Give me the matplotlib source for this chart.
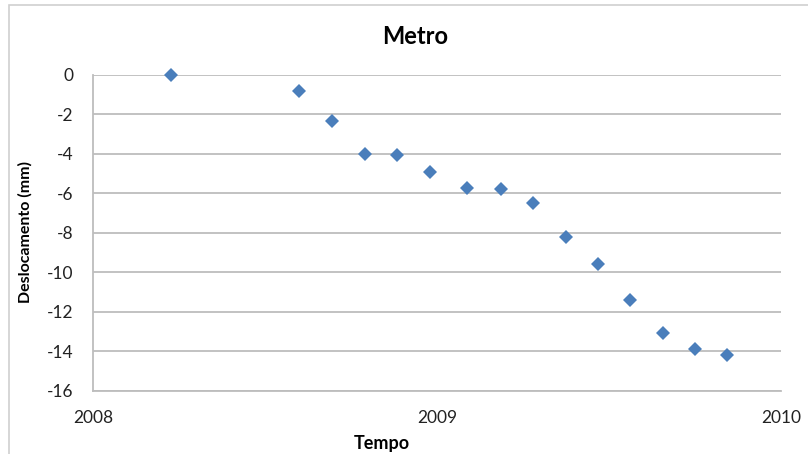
import matplotlib.pyplot as plt
from matplotlib.patches import Rectangle

# time as decimal year, displacement in mm
tempo = [2008.228, 2008.600, 2008.696, 2008.791, 2008.885, 2008.981, 2009.086, 2009.186,
         2009.279, 2009.374, 2009.468, 2009.562, 2009.658, 2009.749, 2009.844]
deslocamento = [0.0, -0.83, -2.36, -4.02, -4.05, -4.95, -5.72, -5.77,
                -6.51, -8.24, -9.60, -11.41, -13.06, -13.89, -14.18]
x_ticks = [2008, 2009, 2010]
y_ticks = list(range(-16, 1, 2))

plt.rcParams['font.family'] = ['Lato', 'DejaVu Sans']

fig = plt.figure(figsize=(8.08, 4.54), dpi=100)
# outer chart frame
fig.patches.append(Rectangle((9 / 808, -0.1), 1.1, 1.1 - 5 / 454,
                             transform=fig.transFigure, fill=False,
                             edgecolor='#d0d0d0', linewidth=1.2))

ax = fig.add_axes([93 / 808, 1 - 390.7 / 454, (781 - 93) / 808, (390.7 - 74.7) / 454])
ax.plot(tempo, deslocamento, linestyle='none', marker='D', markersize=7.6,
        color='#4a7ebb', markeredgewidth=0, clip_on=False)

ax.set_xlim(2008, 2010)
ax.set_ylim(-16, 0)
ax.set_xticks(x_ticks)
ax.set_xticklabels([str(t) for t in x_ticks])
ax.set_yticks(y_ticks)
ax.set_yticklabels([str(t) for t in y_ticks])
ax.grid(axis='y', color='#bdbdbd', linewidth=1.3)
ax.set_axisbelow(True)
for s in ['top', 'right']:
    ax.spines[s].set_visible(False)
for s in ['left', 'bottom']:
    ax.spines[s].set_color('#bdbdbd')
    ax.spines[s].set_linewidth(1.3)
ax.tick_params(axis='both', length=0, labelsize=12.5, colors='#222222')
ax.tick_params(axis='y', pad=14)
ax.tick_params(axis='x', pad=14)

fig.text(415 / 808, 1 - 37 / 454, 'Metro', ha='center', va='center',
         fontsize=17, fontweight='bold')
fig.text(382 / 808, 1 - 443 / 454, 'Tempo', ha='center', va='center',
         fontsize=13, fontweight='bold')
fig.text(25 / 808, 1 - 232 / 454, 'Deslocamento (mm)', ha='center', va='center',
         rotation=90, fontsize=11.5, fontweight='bold')

fig.savefig('out.png', dpi=100)
